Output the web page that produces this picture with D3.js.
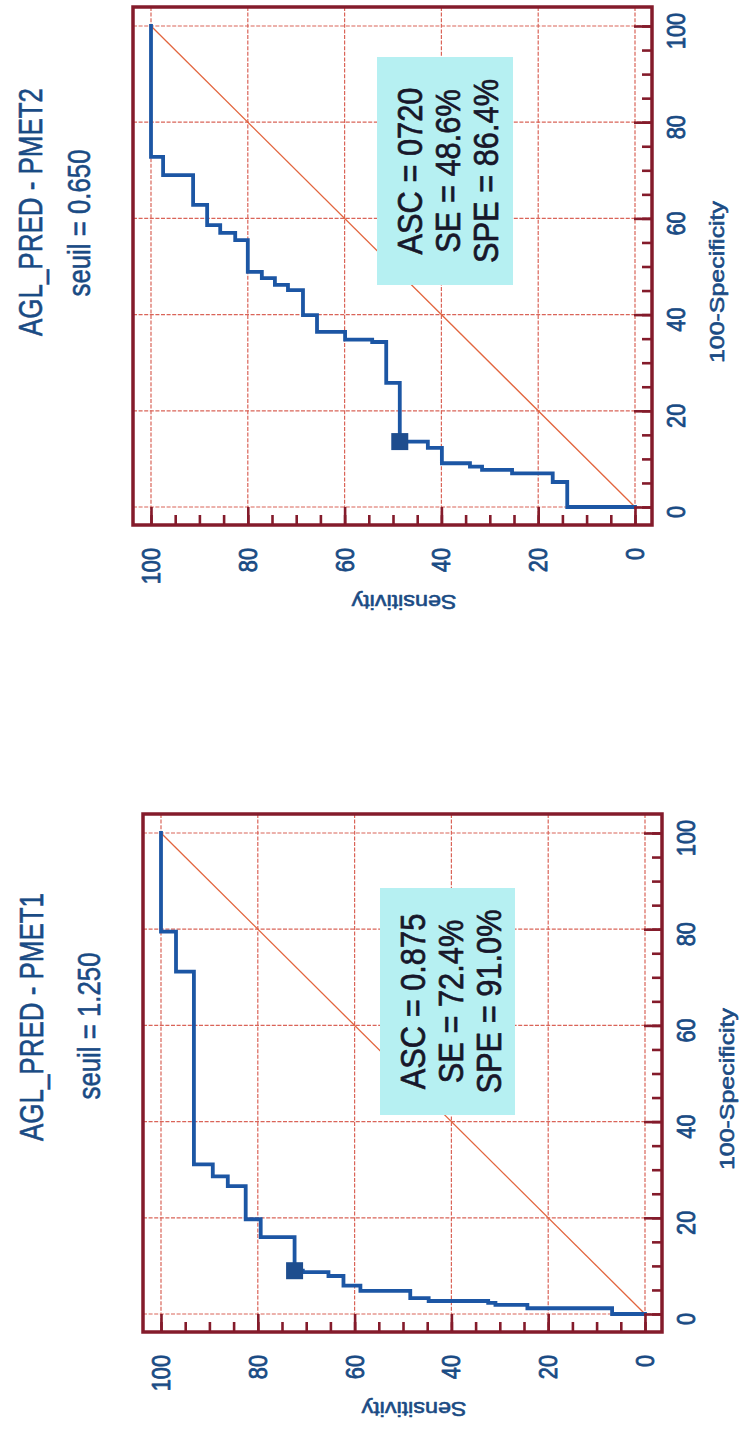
<!DOCTYPE html>
<html>
<head>
<meta charset="utf-8">
<script src="https://cdn.jsdelivr.net/npm/d3@7"></script>
<style>
  html, body { margin: 0; padding: 0; background: #ffffff; }
  svg { display: block; }
  text { font-family: "Liberation Sans", Arial, Helvetica, sans-serif; }
</style>
</head>
<body>
<svg id="chart" width="751" height="1437"></svg>
<script>
// ---------------- DATA ----------------
const titles = ["AGL_PRED - PMET2", "AGL_PRED - PMET1"];
const thresholds = ["seuil = 0.650", "seuil = 1.250"];
const statLines = [
  ["ASC = 0720", "SE = 48.6%", "SPE = 86.4%"],
  ["ASC = 0.875", "SE = 72.4%", "SPE = 91.0%"]
];
const cutSens = [48.6, 72.4];
const cutFpr = [13.6, 9.0];

// ROC curve vertices (sensitivity %, 100-specificity %)
const pmet2Sens = [0, 14.0, 17.0, 25.4, 31.6, 34.1, 39.9, 42.8, 48.6, 51.4, 54.3, 59.9, 65.7, 68.6, 71.7, 74.4, 77.1, 80.0, 82.6, 85.7, 88.4, 91.3, 97.5, 100];
const pmet2Fpr  = [0, 5.2, 7.0, 7.7, 8.4, 9.1, 12.3, 13.6, 25.8, 34.3, 34.8, 36.4, 39.9, 45.1, 46.2, 47.6, 48.9, 55.5, 57.0, 58.6, 62.8, 69.0, 72.8, 100];
const pmet1Sens = [0, 6.8, 24.3, 30.9, 32.4, 44.7, 48.5, 58.8, 62.3, 65.4, 70.7, 72.4, 79.4, 82.5, 86.2, 89.3, 93.2, 96.9, 100];
const pmet1Fpr  = [0, 1.2, 1.9, 2.3, 2.7, 3.3, 4.8, 5.9, 7.9, 8.7, 9.0, 16.0, 19.7, 26.6, 28.6, 31.1, 71.2, 79.5, 100];

const majorTicks = [0, 20, 40, 60, 80, 100];
const minorTicks = d3.range(0, 101, 5);
const xAxisTitle = "100-Specificity";
const yAxisTitle = "Sensitivity";

// ---------------- STYLE ----------------
const C = {
  label: "#1a4b84",
  info: "#17172a",
  frame: "#841b2b",
  grid: "#d44a3c",
  diag: "#e2653e",
  curve: "#1c56a4",
  marker: "#1e4d8e",
  box: "#b6f0f2"
};

const svg = d3.select("#chart");

function addText(g, str, o) {
  const t = g.append("text")
    .attr("transform", `translate(${o.x},${o.y}) rotate(${o.rotate || 0})`)
    .attr("text-anchor", o.anchor || "start")
    .attr("font-size", o.size)
    .attr("fill", o.fill)
    .text(str);
  if (o.stroke) t.attr("stroke", o.fill).attr("stroke-width", o.stroke).attr("stroke-linejoin", "round");
  let len = o.length;
  if (!len && o.factor) len = t.node().getComputedTextLength() * o.factor;
  if (len) t.attr("textLength", len).attr("lengthAdjust", "spacingAndGlyphs");
  return t;
}

const panels = [
  { sens: pmet2Sens, fpr: pmet2Fpr, left: 133, top: 7,
    titleX: 42, titleY: 212, seuilX: 90, seuilY: 223,
    box: { x: 377, y: 57, w: 136, h: 228 } },
  { sens: pmet1Sens, fpr: pmet1Fpr, left: 143, top: 814,
    titleX: 43, titleY: 1017, seuilX: 100, seuilY: 1026,
    box: { x: 380, y: 888, w: 135, h: 227 } }
];

panels.forEach((p, i) => {
  const g = svg.append("g");
  const W = 519, H = 518;
  const fl = p.left, ft = p.top, fr = fl + W, fb = ft + H;

  // scales: rotated chart — sensitivity runs right→left, 100-specificity bottom→top
  const xS = d3.scaleLinear().domain([0, 100]).range([fl + 502, fl + 18]);
  const yS = d3.scaleLinear().domain([0, 100]).range([ft + 500, ft + 19]);

  // grid
  const grid = g.append("g").attr("stroke", C.grid).attr("stroke-width", 1.2)
    .attr("stroke-dasharray", "4,1.6").attr("opacity", 0.85);
  majorTicks.forEach(v => {
    grid.append("line").attr("x1", xS(v)).attr("x2", xS(v)).attr("y1", ft).attr("y2", fb);
    grid.append("line").attr("y1", yS(v)).attr("y2", yS(v)).attr("x1", fl).attr("x2", fr);
  });

  // diagonal
  g.append("line")
    .attr("x1", xS(0)).attr("y1", yS(0)).attr("x2", xS(100)).attr("y2", yS(100))
    .attr("stroke", C.diag).attr("stroke-width", 1.3);

  // info box
  g.append("rect").attr("x", p.box.x).attr("y", p.box.y)
    .attr("width", p.box.w).attr("height", p.box.h).attr("fill", C.box);
  const cy = p.box.y + p.box.h / 2;
  statLines[i].forEach((s, k) => {
    addText(g, s, { x: p.box.x + 45 + k * 38, y: cy, rotate: -90, anchor: "middle",
      size: 35, fill: C.info, factor: 0.88, stroke: 0.7 });
  });

  // ROC curve
  const line = d3.line()
    .x(d => xS(d[0])).y(d => yS(d[1]))
    .curve(d3.curveStepAfter);
  const pts = p.sens.map((s, k) => [s, p.fpr[k]]);
  g.append("path").attr("d", line(pts)).attr("fill", "none")
    .attr("stroke", C.curve).attr("stroke-width", 3.8)
    .attr("stroke-linejoin", "miter").attr("stroke-linecap", "square");

  // cut-off marker
  const ms = 17;
  g.append("rect")
    .attr("x", xS(cutSens[i]) - ms / 2).attr("y", yS(cutFpr[i]) - ms / 2)
    .attr("width", ms).attr("height", ms).attr("fill", C.marker);

  // axes (inner ticks) using d3 axes
  const axR = g.append("g").attr("transform", `translate(${fr},0)`)
    .call(d3.axisLeft(yS).tickValues(minorTicks).tickSize(10).tickFormat(""));
  const axRM = g.append("g").attr("transform", `translate(${fr},0)`)
    .call(d3.axisLeft(yS).tickValues(majorTicks).tickSize(18).tickFormat(""));
  const axB = g.append("g").attr("transform", `translate(0,${fb})`)
    .call(d3.axisTop(xS).tickValues(minorTicks).tickSize(10).tickFormat(""));
  const axBM = g.append("g").attr("transform", `translate(0,${fb})`)
    .call(d3.axisTop(xS).tickValues(majorTicks).tickSize(18).tickFormat(""));
  [axR, axRM, axB, axBM].forEach(a => {
    a.select(".domain").remove();
    a.selectAll(".tick line").attr("stroke", C.frame).attr("stroke-width", 2.6);
  });

  // frame
  g.append("rect").attr("x", fl).attr("y", ft).attr("width", W).attr("height", H)
    .attr("fill", "none").attr("stroke", C.frame).attr("stroke-width", 3.5);

  // tick labels
  majorTicks.forEach(v => {
    addText(g, String(v), { x: fr + 33, y: yS(v) + 5, rotate: -90, anchor: "middle",
      size: 25, fill: C.label, factor: 0.87, stroke: 0.8 });
    addText(g, String(v), { x: xS(v) + 9, y: fb + 23, rotate: -90, anchor: "end",
      size: 25, fill: C.label, factor: 0.87, stroke: 0.8 });
  });

  // axis titles
  addText(g, xAxisTitle, { x: fr + 72, y: ft + 275, rotate: -90, anchor: "middle",
    size: 20, fill: C.label, length: 162, stroke: 0.6 });
  addText(g, yAxisTitle, { x: fl + 271, y: fb + 70, rotate: 180, anchor: "middle",
    size: 20, fill: C.label, length: 105, stroke: 0.6 });

  // titles
  addText(g, titles[i], { x: p.titleX, y: p.titleY, rotate: -90, anchor: "middle",
    size: 33, fill: C.label, length: 248, stroke: 0.6 });
  addText(g, thresholds[i], { x: p.seuilX, y: p.seuilY, rotate: -90, anchor: "middle",
    size: 32, fill: C.label, length: 147, stroke: 0.6 });
});
</script>
</body>
</html>
